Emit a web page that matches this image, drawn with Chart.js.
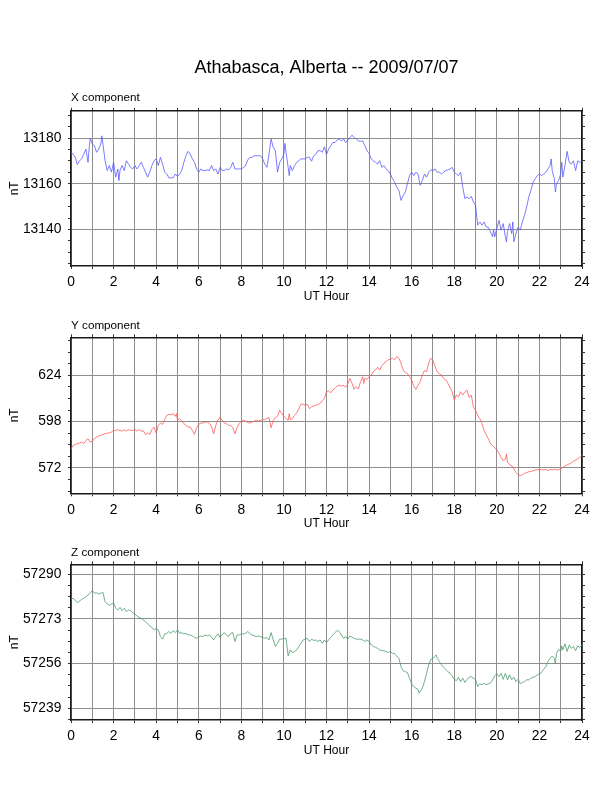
<!DOCTYPE html>
<html>
<head>
<meta charset="utf-8">
<title>Athabasca, Alberta -- 2009/07/07</title>
<script src="https://cdn.jsdelivr.net/npm/chart.js@4.4.1/dist/chart.umd.min.js"></script>
<style>
  html, body { margin: 0; padding: 0; background: #fff; }
  body { width: 612px; height: 792px; position: relative; overflow: hidden; }
  canvas { position: absolute; left: 0; }
</style>
</head>
<body>
<canvas id="xChart" width="612" height="310" style="top:0px"></canvas>
<canvas id="yChart" width="612" height="227" style="top:310px"></canvas>
<canvas id="zChart" width="612" height="227" style="top:537px"></canvas>
<script>
// hour axis (shared by all three panels)
const hourTicks = [0,1,2,3,4,5,6,7,8,9,10,11,12,13,14,15,16,17,18,19,20,21,22,23,24];
const hourLabels = [0,2,4,6,8,10,12,14,16,18,20,22,24];

// y tick marks, annotated ones and minor ones
const xMajor = [13140, 13160, 13180];
const xMinor = [13125,13130,13135,13145,13150,13155,13165,13170,13175,13185,13190];
const yMajor = [572, 598, 624];
const yMinor = [559,565.5,578.5,585,591.5,604.5,611,617.5,630.5,637,643.5];
const zMajor = [57239, 57256, 57273, 57290];
const zMinor = [57234.75,57243.25,57247.5,57251.75,57260.25,57264.5,57268.75,57277.25,57281.5,57285.75];

const xRange = [13124, 13192];
const yRange = [557.8, 645.3];
const zRange = [57234.5, 57293.8];

// [UT hour, nT]
const xComponent = [[0,13173.8],[0.1,13173.0],[0.2,13171.6],[0.3,13168.4],[0.4,13170.1],[0.5,13170.9],[0.6,13173.0],[0.7,13175.2],[0.8,13169.4],[0.85,13175.2],[0.9,13180.0],[1,13177.4],[1.1,13176.7],[1.2,13173.8],[1.3,13175.2],[1.4,13177.4],[1.45,13181.0],[1.5,13177.4],[1.6,13170.1],[1.7,13165.8],[1.8,13168.0],[1.9,13165.1],[2,13169.4],[2.1,13162.9],[2.2,13166.5],[2.25,13161.4],[2.3,13165.8],[2.4,13168.0],[2.5,13165.8],[2.6,13170.1],[2.7,13168.7],[2.8,13167.2],[2.9,13166.5],[3,13168.0],[3.1,13166.5],[3.2,13168.0],[3.3,13169.4],[3.4,13167.2],[3.5,13165.1],[3.6,13162.9],[3.7,13165.1],[3.8,13168.0],[3.9,13170.1],[4,13170.9],[4.1,13168.0],[4.2,13171.6],[4.3,13168.7],[4.4,13165.1],[4.5,13164.3],[4.6,13162.6],[4.7,13162.6],[4.8,13162.6],[4.9,13164.3],[5,13163.2],[5.1,13164.3],[5.2,13165.8],[5.3,13169.4],[5.4,13172.3],[5.5,13174.2],[5.6,13173.0],[5.7,13170.9],[5.8,13169.4],[5.9,13166.5],[6,13165.1],[6.1,13166.5],[6.2,13165.8],[6.3,13165.8],[6.4,13166.1],[6.5,13165.8],[6.6,13168.0],[6.7,13165.8],[6.8,13166.5],[6.9,13164.3],[7,13167.2],[7.1,13165.8],[7.2,13165.8],[7.3,13166.5],[7.4,13166.1],[7.5,13167.2],[7.6,13169.4],[7.7,13166.5],[7.8,13166.5],[7.9,13166.5],[8,13166.5],[8.1,13167.2],[8.2,13168.0],[8.3,13170.4],[8.4,13171.6],[8.5,13171.6],[8.6,13172.3],[8.7,13172.3],[8.8,13172.3],[8.9,13172.3],[9,13170.9],[9.1,13168.7],[9.2,13167.2],[9.3,13173.0],[9.4,13179.6],[9.5,13175.9],[9.6,13174.5],[9.7,13165.1],[9.8,13169.4],[9.9,13170.9],[10,13173.0],[10.05,13177.7],[10.1,13173.8],[10.2,13167.2],[10.25,13163.6],[10.3,13168.0],[10.4,13165.8],[10.5,13168.0],[10.6,13169.4],[10.7,13170.1],[10.8,13170.9],[10.9,13170.9],[11,13170.9],[11.1,13171.6],[11.2,13171.6],[11.3,13169.9],[11.4,13172.3],[11.5,13173.0],[11.6,13174.5],[11.7,13174.5],[11.8,13173.8],[11.9,13176.2],[12,13172.8],[12.1,13175.2],[12.2,13176.7],[12.3,13178.1],[12.4,13178.1],[12.5,13179.1],[12.6,13179.6],[12.7,13178.8],[12.8,13179.6],[12.9,13178.1],[13,13179.1],[13.1,13180.3],[13.2,13181.3],[13.3,13180.3],[13.4,13179.6],[13.5,13178.8],[13.6,13178.6],[13.7,13178.8],[13.8,13176.7],[13.9,13174.5],[14,13173.3],[14.1,13170.9],[14.2,13170.1],[14.3,13169.4],[14.4,13168.7],[14.5,13170.1],[14.6,13167.2],[14.7,13168.0],[14.8,13166.5],[14.9,13165.8],[15,13164.3],[15.1,13162.2],[15.2,13160.7],[15.3,13158.5],[15.4,13157.1],[15.5,13152.7],[15.6,13154.9],[15.7,13156.4],[15.8,13160.0],[15.9,13163.6],[16,13165.1],[16.1,13163.6],[16.2,13165.1],[16.3,13164.3],[16.4,13159.3],[16.5,13161.4],[16.6,13164.3],[16.7,13162.9],[16.8,13165.1],[16.9,13166.1],[17,13165.8],[17.1,13166.5],[17.2,13165.1],[17.3,13165.1],[17.4,13164.3],[17.5,13165.1],[17.6,13165.8],[17.7,13166.1],[17.8,13166.5],[17.9,13167.2],[18,13165.1],[18.1,13164.3],[18.2,13163.6],[18.3,13165.1],[18.4,13158.5],[18.5,13153.5],[18.6,13154.2],[18.7,13153.5],[18.8,13154.5],[18.9,13152.0],[19,13150.6],[19.1,13141.9],[19.2,13143.3],[19.3,13141.9],[19.4,13143.3],[19.5,13141.1],[19.6,13140.9],[19.7,13139.0],[19.8,13136.8],[19.85,13139.7],[19.9,13136.8],[20,13140.4],[20.1,13144.0],[20.2,13139.7],[20.3,13142.6],[20.4,13136.8],[20.45,13134.6],[20.5,13139.0],[20.6,13142.6],[20.7,13138.2],[20.75,13143.3],[20.8,13134.6],[20.9,13138.2],[21,13141.1],[21.1,13139.7],[21.2,13143.3],[21.3,13146.2],[21.4,13149.8],[21.5,13154.2],[21.6,13157.1],[21.7,13160.7],[21.8,13162.2],[21.9,13163.6],[22,13164.3],[22.1,13163.6],[22.2,13164.3],[22.3,13165.1],[22.4,13166.5],[22.5,13168.0],[22.55,13170.9],[22.6,13165.8],[22.7,13162.2],[22.75,13156.4],[22.8,13160.0],[22.9,13161.4],[23,13164.3],[23.05,13169.4],[23.1,13162.9],[23.2,13168.0],[23.3,13174.2],[23.4,13169.4],[23.5,13168.7],[23.6,13170.1],[23.7,13165.8],[23.8,13170.1],[23.9,13169.4],[24,13170.1]];

const yComponent = [[0,582.7],[0.1,584.6],[0.2,585.2],[0.3,585.6],[0.4,586.0],[0.5,586.5],[0.6,585.6],[0.7,587.4],[0.8,588.4],[0.9,586.5],[1,587.1],[1.1,588.4],[1.2,589.3],[1.3,589.9],[1.4,590.3],[1.5,590.8],[1.6,591.2],[1.7,591.6],[1.8,591.6],[1.9,592.2],[2,593.1],[2.1,593.1],[2.2,593.5],[2.3,593.1],[2.4,592.7],[2.5,593.5],[2.6,592.7],[2.7,593.5],[2.8,593.1],[2.9,593.1],[3,593.5],[3.1,592.7],[3.2,593.5],[3.3,592.7],[3.4,592.7],[3.5,590.8],[3.6,591.6],[3.7,590.8],[3.8,593.5],[3.9,595.0],[4,591.6],[4.1,595.9],[4.2,597.2],[4.3,596.5],[4.4,599.1],[4.5,601.6],[4.6,602.1],[4.7,601.8],[4.8,602.5],[4.9,601.0],[4.95,602.5],[5,598.8],[5.1,599.7],[5.2,598.4],[5.3,596.9],[5.4,595.9],[5.5,595.0],[5.6,595.0],[5.7,593.1],[5.8,590.8],[5.9,594.6],[6,596.5],[6.1,597.2],[6.2,597.2],[6.3,597.8],[6.4,597.8],[6.5,597.2],[6.6,595.0],[6.7,591.2],[6.8,595.9],[6.9,598.8],[7,600.6],[7.1,598.8],[7.2,597.2],[7.3,596.9],[7.4,595.9],[7.5,595.9],[7.6,594.6],[7.7,591.2],[7.8,594.6],[7.9,596.9],[8,598.2],[8.1,598.8],[8.2,598.2],[8.3,597.6],[8.4,597.2],[8.5,597.8],[8.6,598.2],[8.7,598.8],[8.8,598.4],[8.9,598.8],[9,599.1],[9.1,599.1],[9.2,599.7],[9.3,600.3],[9.4,594.6],[9.5,598.8],[9.6,600.3],[9.7,601.0],[9.8,604.4],[9.9,602.5],[10,601.0],[10.1,599.7],[10.2,598.8],[10.25,602.5],[10.3,599.1],[10.4,599.7],[10.5,601.6],[10.6,602.9],[10.7,605.3],[10.8,607.8],[10.9,607.8],[11,607.2],[11.1,607.8],[11.2,605.3],[11.3,606.3],[11.4,606.9],[11.5,607.2],[11.6,607.6],[11.7,608.2],[11.8,609.7],[11.9,611.0],[12,614.8],[12.1,615.3],[12.2,614.2],[12.3,615.7],[12.4,616.7],[12.5,618.0],[12.6,618.5],[12.7,618.0],[12.8,618.5],[12.9,617.2],[13,619.1],[13.1,622.3],[13.2,619.5],[13.3,616.1],[13.4,617.6],[13.5,616.3],[13.6,620.4],[13.7,623.2],[13.75,619.5],[13.8,622.3],[13.9,621.7],[14,623.2],[14.1,624.2],[14.2,626.1],[14.3,627.0],[14.4,628.5],[14.5,627.0],[14.6,629.3],[14.7,630.8],[14.8,631.7],[14.9,632.7],[15,633.0],[15.1,633.6],[15.2,632.7],[15.3,634.6],[15.4,633.6],[15.5,630.8],[15.6,627.0],[15.7,625.5],[15.8,625.1],[15.9,623.2],[16,621.4],[16.1,618.0],[16.2,616.1],[16.3,618.5],[16.4,620.4],[16.5,624.2],[16.6,626.6],[16.7,626.1],[16.8,630.8],[16.9,633.6],[17,632.3],[17.1,628.9],[17.2,626.1],[17.3,624.8],[17.4,624.2],[17.5,622.3],[17.6,621.4],[17.7,619.5],[17.8,617.2],[17.9,614.8],[18,610.1],[18.1,612.9],[18.2,611.9],[18.3,614.8],[18.4,612.9],[18.5,614.8],[18.6,615.7],[18.7,611.6],[18.8,612.9],[18.9,606.3],[19,604.4],[19.1,601.6],[19.2,599.7],[19.3,596.9],[19.4,593.1],[19.5,590.8],[19.6,588.4],[19.7,585.6],[19.8,584.6],[19.9,583.3],[20,582.2],[20.1,580.3],[20.2,578.0],[20.3,576.1],[20.4,577.1],[20.45,579.9],[20.5,575.2],[20.6,573.9],[20.7,573.3],[20.8,571.4],[20.9,569.6],[21,568.2],[21.1,567.7],[21.2,568.2],[21.3,569.0],[21.4,569.4],[21.5,569.9],[21.6,570.1],[21.7,570.5],[21.8,570.9],[21.9,571.1],[22,571.1],[22.1,571.1],[22.2,570.9],[22.3,571.2],[22.4,570.5],[22.5,571.2],[22.6,570.9],[22.7,571.4],[22.8,570.9],[22.9,571.2],[23,571.4],[23.1,572.4],[23.2,573.1],[23.3,573.7],[23.4,574.3],[23.5,575.0],[23.6,575.8],[23.7,576.5],[23.8,577.1],[23.9,578.0],[24,579.0]];

const zComponent = [[0,57280.5],[0.1,57280.9],[0.2,57280.0],[0.3,57279.2],[0.4,57279.8],[0.5,57280.5],[0.6,57280.9],[0.7,57281.5],[0.8,57282.1],[0.9,57282.8],[1,57283.8],[1.1,57282.8],[1.2,57283.0],[1.3,57282.5],[1.4,57282.8],[1.5,57283.1],[1.6,57279.6],[1.7,57278.7],[1.8,57278.2],[1.9,57278.7],[2,57279.2],[2.1,57277.1],[2.2,57276.4],[2.3,57277.4],[2.4,57276.2],[2.5,57277.1],[2.6,57275.8],[2.7,57276.4],[2.8,57276.2],[2.9,57275.4],[3,57274.9],[3.1,57274.1],[3.2,57273.6],[3.3,57273.2],[3.4,57272.6],[3.5,57272.0],[3.6,57271.1],[3.7,57270.3],[3.8,57269.8],[3.9,57268.8],[4,57269.4],[4.1,57268.8],[4.2,57266.3],[4.3,57265.3],[4.4,57267.3],[4.5,57267.5],[4.6,57268.2],[4.7,57267.5],[4.8,57268.6],[4.9,57267.8],[5,57268.8],[5.1,57267.5],[5.2,57267.8],[5.3,57267.3],[5.4,57267.5],[5.5,57266.9],[5.6,57266.9],[5.7,57266.5],[5.8,57266.0],[5.9,57265.6],[6,57266.3],[6.1,57266.5],[6.2,57266.3],[6.3,57266.9],[6.4,57266.5],[6.5,57266.9],[6.6,57266.0],[6.7,57265.0],[6.8,57266.3],[6.9,57267.3],[7,57266.0],[7.1,57266.9],[7.2,57267.8],[7.3,57266.9],[7.4,57266.3],[7.5,57267.5],[7.6,57267.8],[7.7,57264.4],[7.8,57266.9],[7.9,57266.9],[8,57267.3],[8.1,57267.3],[8.2,57267.5],[8.3,57268.2],[8.4,57267.5],[8.5,57266.9],[8.6,57266.6],[8.7,57266.3],[8.8,57266.5],[8.9,57266.3],[9,57266.0],[9.1,57265.6],[9.2,57266.0],[9.3,57265.0],[9.4,57267.8],[9.5,57265.0],[9.6,57262.5],[9.7,57263.7],[9.8,57265.3],[9.9,57265.3],[10,57265.5],[10.1,57265.6],[10.2,57258.9],[10.3,57261.2],[10.4,57260.2],[10.5,57260.6],[10.6,57261.2],[10.7,57262.5],[10.8,57263.7],[10.9,57265.0],[11,57265.3],[11.1,57265.6],[11.2,57264.4],[11.3,57265.3],[11.4,57264.8],[11.5,57265.0],[11.6,57264.4],[11.7,57265.0],[11.8,57263.7],[11.9,57265.0],[12,57264.0],[12.1,57265.0],[12.2,57266.0],[12.3,57266.9],[12.4,57267.8],[12.5,57268.6],[12.6,57268.2],[12.7,57266.9],[12.8,57265.6],[12.9,57266.3],[13,57265.3],[13.1,57266.5],[13.2,57266.0],[13.3,57265.6],[13.4,57265.3],[13.5,57265.3],[13.6,57265.3],[13.7,57265.0],[13.8,57264.4],[13.9,57265.0],[14,57264.4],[14.1,57263.1],[14.2,57262.5],[14.3,57262.2],[14.4,57261.8],[14.5,57261.2],[14.6,57260.9],[14.7,57260.9],[14.8,57260.6],[14.9,57260.2],[15,57260.6],[15.1,57259.9],[15.2,57259.7],[15.3,57258.9],[15.4,57258.0],[15.5,57254.8],[15.6,57253.3],[15.7,57252.9],[15.8,57252.6],[15.9,57250.4],[16,57248.3],[16.1,57247.2],[16.2,57246.6],[16.3,57246.2],[16.35,57244.7],[16.4,57245.3],[16.5,57246.6],[16.6,57249.1],[16.7,57252.3],[16.8,57255.5],[16.9,57257.6],[17,57258.0],[17.1,57258.7],[17.15,57259.3],[17.2,57258.0],[17.3,57256.8],[17.4,57255.5],[17.5,57254.6],[17.6,57253.8],[17.7,57252.9],[17.8,57252.3],[17.9,57251.3],[18,57250.0],[18.1,57249.5],[18.2,57250.8],[18.3,57249.1],[18.4,57250.4],[18.5,57248.8],[18.6,57250.0],[18.7,57250.8],[18.8,57251.0],[18.9,57250.4],[19,57250.0],[19.1,57247.2],[19.2,57248.3],[19.3,57247.9],[19.4,57248.5],[19.5,57247.9],[19.6,57248.3],[19.7,57248.5],[19.8,57249.8],[19.9,57251.3],[20,57252.1],[20.1,57251.0],[20.2,57252.3],[20.3,57250.0],[20.4,57252.3],[20.5,57249.8],[20.6,57251.7],[20.7,57249.8],[20.8,57250.8],[20.9,57249.1],[21,57250.0],[21.1,57248.3],[21.2,57248.8],[21.3,57249.1],[21.4,57249.8],[21.5,57249.8],[21.6,57250.4],[21.7,57250.8],[21.8,57251.0],[21.9,57251.7],[22,57252.1],[22.1,57252.6],[22.2,57253.8],[22.3,57254.8],[22.4,57256.8],[22.5,57258.0],[22.6,57258.9],[22.7,57258.0],[22.75,57255.9],[22.8,57259.9],[22.9,57261.4],[23,57260.6],[23.05,57262.7],[23.1,57261.2],[23.2,57263.5],[23.3,57260.6],[23.4,57263.1],[23.5,57261.8],[23.6,57262.5],[23.7,57260.9],[23.8,57262.7],[23.9,57262.2],[24,57263.1]];

const FONT = '"Liberation Sans", Arial, Helvetica, sans-serif';
const GRID = '#8e8e8e';
const FRAME = '#1a1a1a';

function setTicks(values) {
  return axis => { axis.ticks = values.map(v => ({ value: v })); };
}

function makePanel(id, opt) {
  const yTicks = opt.major.concat(opt.minor).sort((a, b) => a - b);
  const bottomH = opt.height - opt.chartBottom;
  const plugins = {
    legend: { display: false },
    tooltip: { enabled: false },
    title: {
      display: true, text: opt.title, fullSize: false, align: opt.titleAlign,
      color: '#000', font: { family: FONT, size: opt.titleSize, weight: 'normal' },
      padding: opt.titlePad
    }
  };
  if (opt.subtitle) {
    plugins.subtitle = {
      display: true, text: opt.subtitle, fullSize: false, align: 'start',
      color: '#000', font: { family: FONT, size: 11.7, weight: 'normal' },
      padding: opt.subPad
    };
  }
  return new Chart(document.getElementById(id), {
    type: 'line',
    data: {
      datasets: [{
        data: opt.series.map(p => ({ x: p[0], y: p[1] })),
        xAxisID: 'x', yAxisID: 'y',
        borderColor: opt.color, borderWidth: 0.8,
        pointRadius: 0, tension: 0, fill: false
      }]
    },
    options: {
      responsive: false, animation: false, events: [],
      layout: { padding: 0 },
      plugins: plugins,
      scales: {
        x: {
          type: 'linear', position: 'bottom', min: 0, max: 24,
          afterBuildTicks: setTicks(hourTicks),
          afterFit: a => { a.height = bottomH; },
          ticks: {
            autoSkip: false, maxRotation: 0, padding: 5.3, color: '#000',
            font: { family: FONT, size: 13.8 },
            callback: v => hourLabels.includes(v) ? String(v) : ''
          },
          grid: { color: GRID, lineWidth: 1, tickLength: 3, tickColor: '#333' },
          border: { display: true, color: FRAME, width: 1.6 },
          title: {
            display: true, text: 'UT Hour', color: '#000',
            font: { family: FONT, size: 12 },
            padding: { top: 0, bottom: bottomH - 30.5 - 7.2 }
          }
        },
        x2: {
          type: 'linear', position: 'top', min: 0, max: 24,
          afterBuildTicks: setTicks(hourTicks),
          afterFit: a => { a.height = 4; },
          ticks: { display: false },
          grid: { drawOnChartArea: false, tickLength: 3, tickColor: '#333' },
          border: { display: true, color: FRAME, width: 1.6 }
        },
        y: {
          type: 'linear', position: 'left', min: opt.range[0], max: opt.range[1],
          afterBuildTicks: setTicks(yTicks),
          afterFit: a => { a.width = 71; },
          ticks: {
            autoSkip: false, padding: 6.7, color: '#000',
            font: { family: FONT, size: 13.8 },
            callback: v => opt.major.includes(v) ? String(v) : ''
          },
          grid: {
            lineWidth: 1, tickLength: 3, tickColor: '#333',
            color: c => (c.tick && opt.major.includes(c.tick.value)) ? GRID : 'rgba(0,0,0,0)'
          },
          border: { display: true, color: FRAME, width: 1.6 },
          title: {
            display: true, text: 'nT', color: '#000',
            font: { family: FONT, size: 12 },
            padding: { top: 7.8, bottom: 0 }
          }
        },
        y2: {
          type: 'linear', position: 'right', min: opt.range[0], max: opt.range[1],
          afterBuildTicks: setTicks(yTicks),
          afterFit: a => { a.width = 30; },
          ticks: { display: false },
          grid: { drawOnChartArea: false, tickLength: 3, tickColor: '#333' },
          border: { display: true, color: FRAME, width: 1.6 }
        }
      }
    }
  });
}

makePanel('xChart', {
  height: 310, chartBottom: 266,
  title: 'Athabasca, Alberta -- 2009/07/07', titleAlign: 'center', titleSize: 18,
  titlePad: { top: 57.2, bottom: 0 },
  subtitle: 'X component', subPad: { top: 11.7, bottom: 2.2 },
  series: xComponent, color: '#5b5bff',
  major: xMajor, minor: xMinor, range: xRange
});

makePanel('yChart', {
  height: 227, chartBottom: 183.3,
  title: 'Y component', titleAlign: 'start', titleSize: 11.7,
  titlePad: { top: 8.5, bottom: 0.8 },
  series: yComponent, color: '#ff5b5b',
  major: yMajor, minor: yMinor, range: yRange
});

makePanel('zChart', {
  height: 227, chartBottom: 183,
  title: 'Z component', titleAlign: 'start', titleSize: 11.7,
  titlePad: { top: 8.5, bottom: 0.8 },
  series: zComponent, color: '#4f9a70',
  major: zMajor, minor: zMinor, range: zRange
});
</script>
</body>
</html>
